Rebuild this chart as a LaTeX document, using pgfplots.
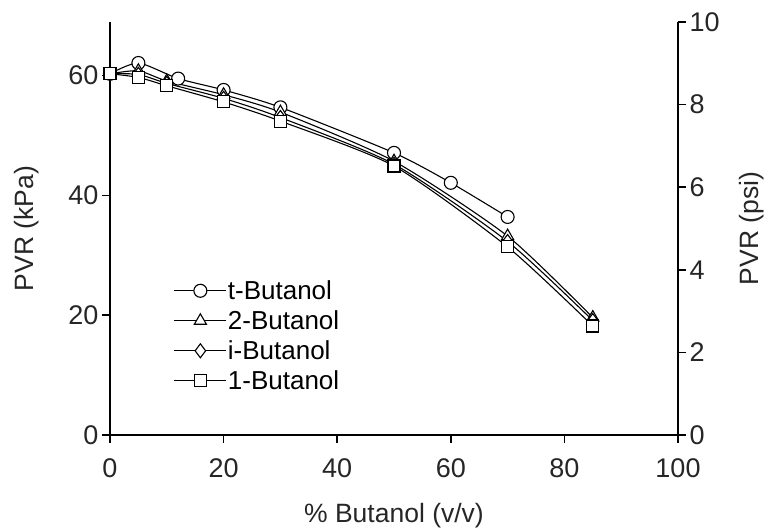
\documentclass[border=0pt]{standalone}
\usepackage{fontspec}
\setmainfont{Liberation Sans}
\usepackage{pgfplots}
\pgfplotsset{compat=1.18}
\begin{document}
\begin{tikzpicture}[x=1bp,y=1bp]
\useasboundingbox (-110,-97) rectangle (654,435);
\pgfplotsset{
  every axis/.append style={
    scale only axis, width=568bp, height=413bp,
    at={(0,0)}, anchor=south west,
    xmin=0, xmax=100,
    tick align=outside, major tick length=8bp,
    tick style={line width=1.6bp, black},
    axis line style={line width=1.6bp},
    /pgf/number format/assume math mode=true,
    tick label style={font=\fontsize{27bp}{30bp}\selectfont, color=black!85},
    label style={font=\fontsize{26.5bp}{30bp}\selectfont, color=black!85},
  }
}
\begin{axis}[
  axis x line*=bottom, axis y line*=left,
  ymin=0, ymax=68.9476,
  xtick={0,20,40,60,80,100},
  ytick={0,20,40,60},
  x tick label style={yshift=-12bp},
  xlabel={\% Butanol (v/v)},
  ylabel={PVR (kPa)},
  xlabel style={at={(axis description cs:0.5,-0.195)}, anchor=center},
  ylabel style={at={(axis description cs:-0.146,0.5)}, anchor=center},
  legend cell align=left,
  legend style={draw=none, fill=none, at={(axis description cs:0.112,0.386)}, anchor=north west,
    font=\fontsize{26bp}{30bp}\selectfont, inner sep=0pt,
    /tikz/every even column/.append style={column sep=5bp},
    nodes={inner sep=1bp, minimum height=30bp}},
  legend image code/.code={\draw[mark repeat=2,mark phase=2] plot coordinates {(0bp,0bp)(26bp,0bp)(52bp,0bp)};},
]
\addplot[black, line width=1.1bp, smooth, tension=0.4, mark=*, mark size=6.5bp, mark options={fill=white, draw=black, solid, line width=1.1bp}] coordinates {
(0,60.3) (5,62.1) (12,59.5) (20,57.6) (30,54.7) (50,47.1) (60,42.1) (70,36.4)};
\addlegendentry{t-Butanol}
\addplot[black, line width=1.1bp, smooth, tension=0.4, mark=triangle*, mark size=7bp, mark options={fill=white, draw=black, solid, line width=1.1bp}] coordinates {
(0,60.3) (5,60.8) (10,59.1) (20,56.8) (30,53.9) (50,45.7) (70,33.2) (85,19.6)};
\addlegendentry{2-Butanol}
\addplot[black, line width=1.1bp, smooth, tension=0.4, mark=diamond*, mark size=7bp, mark options={fill=white, draw=black, solid, line width=1.1bp}] coordinates {
(0,60.3) (5,60.2) (10,58.7) (20,56.2) (30,53.0) (50,45.2) (70,32.3) (85,19.1)};
\addlegendentry{i-Butanol}
\addplot[black, line width=1.1bp, smooth, tension=0.4, mark=square*, mark size=6bp, mark options={fill=white, draw=black, solid, line width=1.1bp}] coordinates {
(0,60.3) (5,59.7) (10,58.3) (20,55.6) (30,52.4) (50,44.9) (70,31.4) (85,18.2)};
\addlegendentry{1-Butanol}
\end{axis}
\begin{axis}[
  axis x line=none, axis y line*=right,
  ymin=0, ymax=10,
  ytick={0,2,4,6,8,10},
  ylabel={PVR (psi)},
  ylabel style={at={(axis description cs:1.13,0.5)}, anchor=center},
]
\addplot[draw=none] coordinates {(0,0)};
\end{axis}
\end{tikzpicture}
\end{document}
